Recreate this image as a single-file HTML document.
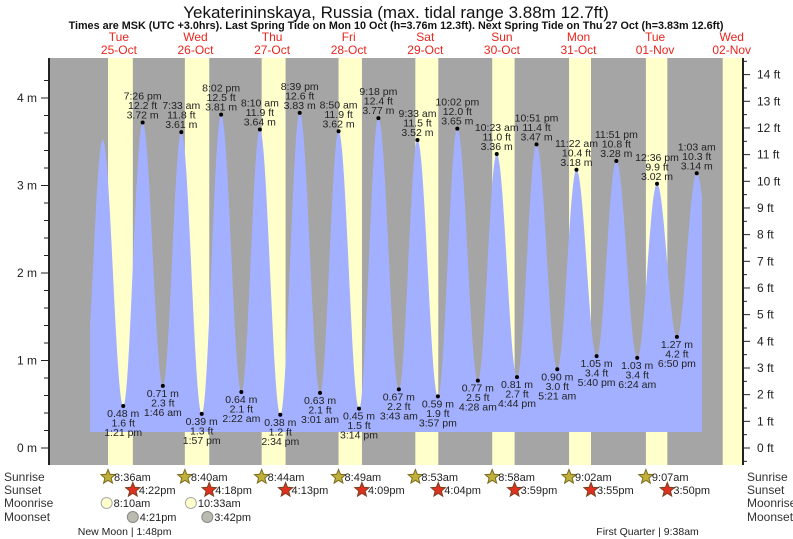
<!DOCTYPE html>
<html><head><meta charset="utf-8"><style>
html,body{margin:0;padding:0;background:#fff;}
svg{display:block;font-family:"Liberation Sans",sans-serif;}
</style></head><body>
<svg id="chart" width="793" height="539" viewBox="0 0 793 539">
<text x="396" y="18" text-anchor="middle" font-size="17" fill="#111">Yekaterininskaya, Russia (max. tidal range 3.88m 12.7ft)</text>
<text x="396" y="29" text-anchor="middle" font-size="10.8" font-weight="bold" fill="#111">Times are MSK (UTC +3.0hrs). Last Spring Tide on Mon 10 Oct (h=3.76m 12.3ft). Next Spring Tide on Thu 27 Oct (h=3.83m 12.6ft)</text>
<g id="bg"></g><g id="tide"></g><g id="axes"></g><g id="labels"></g><g id="bottom"></g>
</svg>
<script>
// ---- data ----
const dayNames = ["Tue","Wed","Thu","Fri","Sat","Sun","Mon","Tue","Wed"];
const dayDates = ["25-Oct","26-Oct","27-Oct","28-Oct","29-Oct","30-Oct","31-Oct","01-Nov","02-Nov"];
// hours since 25-Oct 00:00 (first two and last are unlabelled curve extremes)
const tideHours = [0.83,6.93,13.35,19.433,25.767,31.55,37.95,44.033,50.367,56.167,62.567,68.65,75.017,80.833,87.233,93.3,99.717,105.55,111.95,118.033,124.467,130.383,136.733,142.85,149.35,155.367,161.667,167.85,174.4,180.6,186.833,193.05,199.5];
const tideHeights = [0.6,3.52,0.48,3.72,0.71,3.61,0.39,3.81,0.64,3.64,0.38,3.83,0.63,3.62,0.45,3.77,0.67,3.52,0.59,3.65,0.77,3.36,0.81,3.47,0.90,3.18,1.05,3.28,1.03,3.02,1.27,3.14,1.3];
const tideLabels = ["","","1:21 pm","7:26 pm","1:46 am","7:33 am","1:57 pm","8:02 pm","2:22 am","8:10 am","2:34 pm","8:39 pm","3:01 am","8:50 am","3:14 pm","9:18 pm","3:43 am","9:33 am","3:57 pm","10:02 pm","4:28 am","10:23 am","4:44 pm","10:51 pm","5:21 am","11:22 am","5:40 pm","11:51 pm","6:24 am","12:36 pm","6:50 pm","1:03 am",""];
const sunriseHours = [8.6,32.667,56.733,80.817,104.883,128.967,153.033,177.117,201.183];
const sunsetHours = [16.367,40.3,64.217,88.15,112.067,135.983,159.917,183.833,208];
const sunriseText = ["8:36am","8:40am","8:44am","8:49am","8:53am","8:58am","9:02am","9:07am"];
const sunsetText = ["4:22pm","4:18pm","4:13pm","4:09pm","4:04pm","3:59pm","3:55pm","3:50pm"];
const moonriseHours = [8.167,34.55];
const moonriseText = ["8:10am","10:33am"];
const moonsetHours = [16.35,39.7];
const moonsetText = ["4:21pm","3:42pm"];
const phaseHours = [13.8,177.633];
const phaseText = ["New Moon | 1:48pm","First Quarter | 9:38am"];
const meterTicks = [0,1,2,3,4];
const feetTicks = [0,1,2,3,4,5,6,7,8,9,10,11,12,13,14];

// ---- scales ----
const X0=49, X1=743, YT=58, YB=465;
const x = h => 80.6 + h*76.6/24;
const y = m => 448 - 87.5*m;
const yft = f => y(f*0.3048);
const NS="http://www.w3.org/2000/svg";
function mk(tag, parent, attrs, txt){const e=document.createElementNS(NS,tag);for(const k in attrs)e.setAttribute(k,attrs[k]);if(txt!==undefined)e.textContent=txt;parent.appendChild(e);return e;}
const bg=document.getElementById('bg'), tide=document.getElementById('tide'), axes=document.getElementById('axes'), labels=document.getElementById('labels'), bottom=document.getElementById('bottom');

// background
let r=mk('rect',bg,{x:X0,y:YT,width:X1-X0,height:YB-YT,fill:'#a5a5a5'});


for(let i=0;i<sunriseHours.length;i++){
  const a=Math.max(X0,x(sunriseHours[i])), b=Math.min(X1,x(sunsetHours[i]));
  if(b<=a) continue;
  const d=mk('rect',bg,{x:a,y:YT,width:b-a,height:YB-YT,fill:'#ffffcc'});
  
  
}
// day labels
for(let i=0;i<dayNames.length;i++){
  const t=mk('text',bg,{x:x(12+24*i),y:41,'text-anchor':'middle','font-size':12,fill:'#e8251d'});
  
  
  mk('tspan',t,{x:x(12+24*i),dy:0},dayNames[i]);
  mk('tspan',t,{x:x(12+24*i),dy:13},dayDates[i]);
}

// tide curve
function level(h){
  for(let i=0;i<tideHours.length-1;i++){
    if(h>=tideHours[i]&&h<=tideHours[i+1]){
      const f=(h-tideHours[i])/(tideHours[i+1]-tideHours[i]);
      return tideHeights[i]+(tideHeights[i+1]-tideHeights[i])*(1-Math.cos(Math.PI*f))/2;
    }
  }
  return tideHeights[0];
}
const hStart=(90-80.6)*24/76.6, hEnd=(702-80.6)*24/76.6, base=432;
let dstr=`M${x(hStart)},${base}`;
for(let h=hStart;h<=hEnd;h+=0.1){dstr+=` L${x(h).toFixed(2)},${y(level(h)).toFixed(2)}`;}
dstr+=` L${x(hEnd)},${y(level(hEnd))} L${x(hEnd)},${base} Z`;
const area=mk('path',tide,{d:dstr,fill:'#a3b0ff'});



// axes
const la=mk('line',axes,{x1:X0,y1:YT,x2:X0,y2:YB,stroke:'#222','stroke-width':2});


for(let v=0;v<=4.4;v+=0.2){
  const major=Math.abs(v-Math.round(v))<0.01;
  mk('line',axes,{x1:major?41:44,y1:y(v),x2:X0,y2:y(v),stroke:'#222','stroke-width':1});
}
meterTicks.forEach(m=>{
  const t=mk('text',axes,{x:37,y:y(m)+4,'text-anchor':'end','font-size':12,fill:'#222'},m+' m');
  
  
});
const ra=mk('line',axes,{x1:X1,y1:YT,x2:X1,y2:YB,stroke:'#222','stroke-width':2});


for(let f=-0.5;f<=14.5;f+=0.5){
  const major=Math.abs(f-Math.round(f))<0.01;
  if(yft(f)<YT||yft(f)>YB) continue;
  mk('line',axes,{x1:X1,y1:yft(f),x2:major?X1+7:X1+4,y2:yft(f),stroke:'#222','stroke-width':1});
}
feetTicks.forEach(f=>{
  const t=mk('text',axes,{x:757,y:yft(f)+4,'font-size':12,fill:'#222'},f+' ft');
  
  
});

// extreme labels
for(let i=0;i<tideHours.length;i++){
  if(!tideLabels[i]) continue;
  const px=x(tideHours[i]), py=y(tideHeights[i]);
  const m=tideHeights[i], ft=(m*3.28084).toFixed(1);
  const isHigh = i>0 && tideHeights[i]>tideHeights[i-1];
  const dot=mk('circle',labels,{cx:px,cy:py,r:2,fill:'#000'});
  
  
  const lines=isHigh?[[tideLabels[i],-23],[ft+' ft',-13.5],[m.toFixed(2)+' m',-4]]:[[m.toFixed(2)+' m',11],[ft+' ft',20.5],[tideLabels[i],30]];
  lines.forEach(L=>{
    const t=mk('text',labels,{x:px,y:py+L[1],'text-anchor':'middle','font-size':10.5,fill:'#222'},L[0]);
    
    
  });
}

// bottom rows
const rowY=[477,490,503,517,531];
["Sunrise","Sunset","Moonrise","Moonset"].forEach((s,i)=>{
  const a=mk('text',bottom,{x:4,y:rowY[i]+4,'font-size':12,fill:'#333'},s);
  
  
  const b=mk('text',bottom,{x:747,y:rowY[i]+4,'font-size':12,fill:'#333'},s);
  
  
});
function star(cx,cy,fill,stroke){
  let p=[];for(let k=0;k<10;k++){const rr=k%2?3.3:7.5,a=-Math.PI/2+k*Math.PI/5;p.push((cx+rr*Math.cos(a)).toFixed(1)+','+(cy+rr*Math.sin(a)).toFixed(1));}
  return mk('polygon',bottom,{points:p.join(' '),fill:fill,stroke:stroke,'stroke-width':1});
}
sunriseText.forEach((s,i)=>{
  const cx=x(sunriseHours[i]);
  const st=star(cx,rowY[0],'#bfb03a','#7a6a20');
  
  
  const t=mk('text',bottom,{x:cx+6,y:rowY[0]+4,'font-size':11,fill:'#222'},s);
  
  
});
sunsetText.forEach((s,i)=>{
  const cx=x(sunsetHours[i]);
  const st=star(cx,rowY[1],'#e03020','#7a4020');
  
  
  const t=mk('text',bottom,{x:cx+6,y:rowY[1]+4,'font-size':11,fill:'#222'},s);
  
  
});
moonriseText.forEach((s,i)=>{
  const cx=x(moonriseHours[i]);
  const c=mk('circle',bottom,{cx:cx,cy:rowY[2],r:5.5,fill:'#ffffcc',stroke:'#aaa'});
  
  
  const t=mk('text',bottom,{x:cx+7,y:rowY[2]+4,'font-size':11,fill:'#222'},s);
  
  
});
moonsetText.forEach((s,i)=>{
  const cx=x(moonsetHours[i]);
  const c=mk('circle',bottom,{cx:cx,cy:rowY[3],r:5.5,fill:'#bbbbb0',stroke:'#888'});
  
  
  const t=mk('text',bottom,{x:cx+7,y:rowY[3]+4,'font-size':11,fill:'#222'},s);
  
  
});
phaseText.forEach((s,i)=>{
  const t=mk('text',bottom,{x:x(phaseHours[i]),y:rowY[4]+4,'text-anchor':'middle','font-size':10.5,fill:'#222'},s);
  
  
});
</script>
</body></html>
